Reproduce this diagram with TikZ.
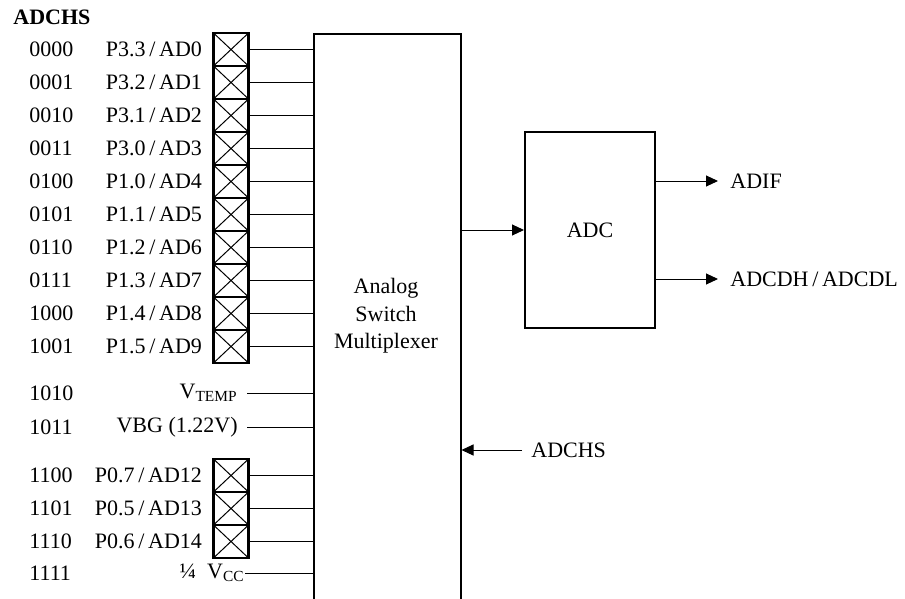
\documentclass[tikz,border=0pt]{standalone}
\usepackage{fontspec}
\setmainfont{Liberation Serif}
\usetikzlibrary{arrows.meta, positioning, calc}
\tikzset{
  pinbox/.style={rectangle, draw, line width=1.2pt, inner sep=0pt,
                 minimum width=17.5pt, minimum height=16.5pt,
                 path picture={\draw[line width=0.5pt]
                   (path picture bounding box.north west) -- (path picture bounding box.south east)
                   (path picture bounding box.north east) -- (path picture bounding box.south west);}},
  code/.style={anchor=west, inner sep=0pt},
  pinlabel/.style={anchor=east, inner sep=0pt},
  block/.style={rectangle, draw, line width=1pt, inner sep=0pt},
  outlabel/.style={anchor=west, inner sep=0pt},
  wire/.style={line width=0.5pt},
  arrow/.style={wire, -{Triangle[length=6pt, width=5.5pt]}},
}

\begin{document}
\begin{tikzpicture}[x=0.5pt, y=-0.5pt,
  every node/.style={font=\fontsize{11}{13.75}\selectfont},
]
  \useasboundingbox (0,0) rectangle (905,599);
  \clip (0,0) rectangle (905,599);

  % title
  \node[code, font=\fontsize{11}{13.75}\selectfont\bfseries] (title) at (13,17) {ADCHS};

  % multiplexer (open at the bottom)
  \node[block, anchor=north west, minimum width=73.5pt, minimum height=320pt] (mux) at (312.5,33) {};
  \node[align=center] (muxtext) at (386,316) {Analog\\Switch\\Multiplexer};

  % pins AD0--AD9
  \foreach \i/\c/\p/\a in {0/0000/P3.3/AD0, 1/0001/P3.2/AD1, 2/0010/P3.1/AD2,
                           3/0011/P3.0/AD3, 4/0100/P1.0/AD4, 5/0101/P1.1/AD5,
                           6/0110/P1.2/AD6, 7/0111/P1.3/AD7, 8/1000/P1.4/AD8,
                           9/1001/P1.5/AD9} {
    \pgfmathsetmacro\y{49.5+33*\i}
    \node[pinbox] (box\c) at (231,\y) {};
    \node[pinlabel, left=5pt of box\c] (pin\c) {\p\,/\,\a};
    \node[code] (code\c) at (29,\y) {\c};
    \draw[wire] (box\c.east) -- (box\c.east -| mux.west);
  }

  % internal sources
  \node[code] (code1010) at (29,393) {1010};
  \node[pinlabel] (vtemp) at (238,393) {V\textsubscript{TEMP}};
  \draw[wire] ([xshift=4.5pt]vtemp.east) -- (vtemp.east -| mux.west);
  \node[code] (code1011) at (29,427) {1011};
  \node[pinlabel] (vbg) at (238,427) {VBG (1.22V)};
  \draw[wire] ([xshift=4.5pt]vbg.east) -- (vbg.east -| mux.west);

  % pins AD12--AD14
  \foreach \i/\c/\p/\a in {0/1100/P0.7/AD12, 1/1101/P0.5/AD13, 2/1110/P0.6/AD14} {
    \pgfmathsetmacro\y{475.5+33*\i}
    \node[pinbox] (box\c) at (231,\y) {};
    \node[pinlabel, left=5pt of box\c] (pin\c) {\p\,/\,\a};
    \node[code] (code\c) at (29,\y) {\c};
    \draw[wire] (box\c.east) -- (box\c.east -| mux.west);
  }

  \node[code] (code1111) at (29,573) {1111};
  \node[pinlabel] (vcc) at (245,573) {¼\enspace V\textsubscript{CC}};
  \draw[wire] (vcc.east) -- (vcc.east -| mux.west);

  % converter
  \node[block, minimum width=65pt, minimum height=98pt] (adc) at (590,230) {ADC};
  \draw[arrow] (mux.east |- adc.west) -- (adc.west);

  \node[outlabel] (adif) at (730,181) {ADIF};
  \draw[arrow] (adc.east |- adif.west) -- ([xshift=-6pt]adif.west);
  \node[outlabel] (adcd) at (730,279) {ADCDH\,/\,ADCDL};
  \draw[arrow] (adc.east |- adcd.west) -- ([xshift=-6pt]adcd.west);

  \node[outlabel] (sel) at (531,450) {ADCHS};
  \draw[arrow] ([xshift=-4.5pt]sel.west) -- (sel.west -| mux.east);
\end{tikzpicture}
\end{document}
